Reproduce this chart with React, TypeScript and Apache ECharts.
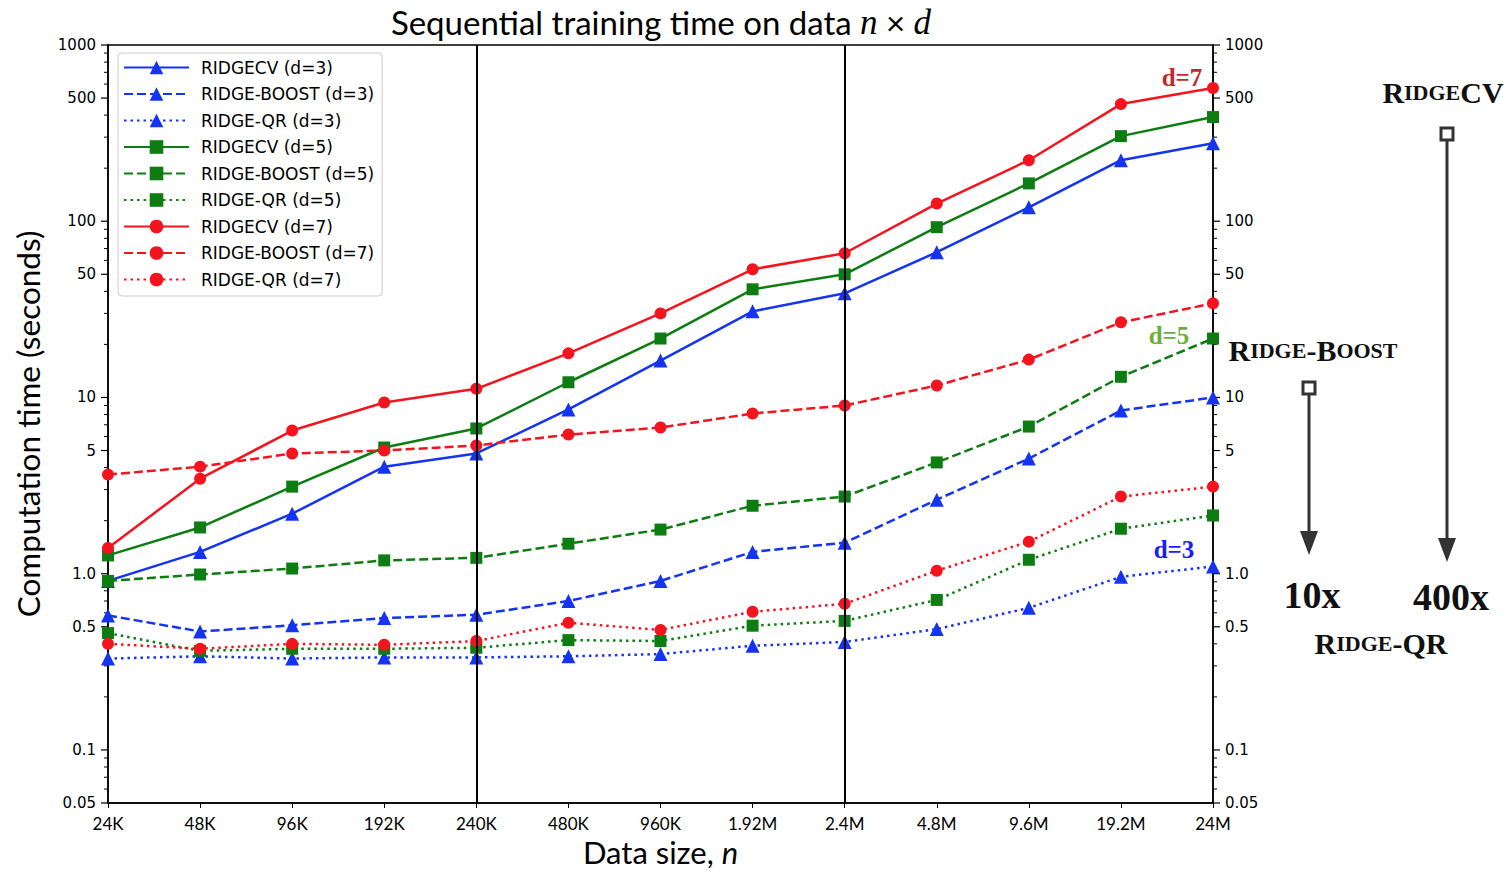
import React, { useEffect, useRef } from "react";
import * as echarts from "echarts";

const categories = ["24K", "48K", "96K", "192K", "240K", "480K", "960K", "1.92M", "2.4M", "4.8M", "9.6M", "19.2M", "24M"];

const ridgeCvD3 = [0.91, 1.33, 2.19, 4.05, 4.81, 8.55, 16.2, 30.8, 39.0, 66.7, 120, 222, 277];
const ridgeBoostD3 = [0.58, 0.47, 0.51, 0.56, 0.585, 0.7, 0.91, 1.33, 1.5, 2.63, 4.5, 8.44, 10.0];
const ridgeQrD3 = [0.33, 0.34, 0.33, 0.335, 0.335, 0.34, 0.35, 0.39, 0.41, 0.485, 0.64, 0.96, 1.1];
const ridgeCvD5 = [1.27, 1.83, 3.12, 5.2, 6.67, 12.2, 21.6, 41.1, 50.0, 92.5, 164, 304, 390];
const ridgeBoostD5 = [0.91, 0.99, 1.07, 1.19, 1.23, 1.48, 1.78, 2.43, 2.74, 4.28, 6.84, 13.1, 21.6];
const ridgeQrD5 = [0.46, 0.365, 0.375, 0.375, 0.38, 0.42, 0.415, 0.507, 0.54, 0.71, 1.2, 1.8, 2.14];
const ridgeCvD7 = [1.4, 3.46, 6.49, 9.37, 11.2, 17.8, 30.0, 53.4, 65.8, 126, 222, 462, 570];
const ridgeBoostD7 = [3.65, 4.05, 4.81, 5.0, 5.34, 6.16, 6.75, 8.11, 9.0, 11.7, 16.4, 26.7, 34.2];
const ridgeQrD7 = [0.4, 0.375, 0.4, 0.395, 0.415, 0.527, 0.48, 0.608, 0.675, 1.04, 1.52, 2.74, 3.12];

const yTickValues = [1000, 500, 100, 50, 10, 5, 1, 0.5, 0.1, 0.05];
const yTickLabels = ["1000", "500", "100", "50", "10", "5", "1.0", "0.5", "0.1", "0.05"];
const verticalMarks = ["240K", "2.4M"];

const BLUE = "#1434f2";
const GREEN = "#0d7d12";
const RED = "#f5141e";
const DASHED = [9, 4];
const DOTTED = [2.5, 4];

const SANS = "DejaVu Sans";
const CM = "Lato, 'Open Sans', sans-serif";
const SERIF = "'Liberation Serif', 'DejaVu Serif', serif";

function mk(name: string, data: number[], color: string, type: any, symbol: string, size: number) {
  return {
    name,
    type: "line",
    data,
    symbol,
    symbolSize: size,
    showAllSymbol: true,
    lineStyle: { color, width: 2.5, type },
    itemStyle: { color },
    z: 3,
  };
}

export default function App() {
  const ref = useRef<HTMLDivElement>(null);
  useEffect(() => {
    document.body.style.margin = "0";
    const chart = echarts.init(ref.current!, null, { renderer: "svg" });
    const series: any[] = [
      mk("RIDGECV (d=3)", ridgeCvD3, BLUE, "solid", "triangle", 14),
      mk("RIDGE-BOOST (d=3)", ridgeBoostD3, BLUE, DASHED, "triangle", 14),
      mk("RIDGE-QR (d=3)", ridgeQrD3, BLUE, DOTTED, "triangle", 14),
      mk("RIDGECV (d=5)", ridgeCvD5, GREEN, "solid", "rect", 12),
      mk("RIDGE-BOOST (d=5)", ridgeBoostD5, GREEN, DASHED, "rect", 12),
      mk("RIDGE-QR (d=5)", ridgeQrD5, GREEN, DOTTED, "rect", 12),
      mk("RIDGECV (d=7)", ridgeCvD7, RED, "solid", "circle", 12),
      mk("RIDGE-BOOST (d=7)", ridgeBoostD7, RED, DASHED, "circle", 12),
      mk("RIDGE-QR (d=7)", ridgeQrD7, RED, DOTTED, "circle", 12),
    ];
    series[0].markLine = {
      silent: true,
      symbol: ["none", "none"],
      label: { show: false },
      lineStyle: { color: "#000", width: 2, type: "solid" },
      data: verticalMarks.map((v) => ({ xAxis: v })),
    };
    const yAxisBase = {
      type: "log",
      logBase: 10,
      min: 0.05,
      max: 1000,
      axisLine: { show: true, lineStyle: { color: "#000", width: 1.5 } },
      axisTick: { show: false },
      axisLabel: { show: false },
      splitLine: { show: false },
      minorTick: { show: false },
    };
    chart.setOption({
      animation: false,
      backgroundColor: "#fff",
      grid: {
        left: 108, right: 299, top: 45, bottom: 69,
        outerBoundsMode: "none",
        containLabel: false,
        show: true, borderColor: "#000", borderWidth: 1.5, backgroundColor: "transparent",
      },
      legend: {
        orient: "vertical",
        left: 118,
        top: 53,
        padding: [6, 8, 8, 5],
        itemWidth: 65,
        itemHeight: 17,
        itemGap: 9.5,
        backgroundColor: "rgba(255,255,255,0.85)",
        borderColor: "#cccccc",
        borderWidth: 1,
        borderRadius: 4,
        textStyle: { fontFamily: SANS, fontSize: 17, color: "#000", padding: [0, 0, 0, 7] },
        data: series.map((s) => s.name),
      },
      xAxis: {
        type: "category",
        data: categories,
        boundaryGap: false,
        axisLine: { lineStyle: { color: "#000", width: 1.5 } },
        axisTick: { show: true, length: 5, alignWithLabel: true, lineStyle: { color: "#000" } },
        axisLabel: { fontFamily: CM, fontSize: 17, color: "#000", margin: 12, interval: 0 },
        splitLine: { show: false },
        name: "{a|Data size, }{i|n}",
        nameLocation: "middle",
        nameGap: 34,
        nameTextStyle: {
          fontFamily: CM,
          fontSize: 31,
          lineHeight: 30,
          color: "#000",
          rich: {
            a: { fontFamily: CM, fontSize: 31, lineHeight: 30, color: "#000" },
            i: { fontFamily: CM, fontStyle: "italic", fontSize: 31, lineHeight: 30, color: "#000" },
          },
        },
      },
      yAxis: [
        {
          ...yAxisBase,
          position: "left",
          name: "Computation time (seconds)",
          nameLocation: "middle",
          nameGap: 64,
          nameTextStyle: { fontFamily: CM, fontSize: 31.5, color: "#000" },
        },
        { ...yAxisBase, position: "right" },
      ],
      series,
    });

    const g: any[] = [];
    const yPix = (v: number) => chart.convertToPixel({ yAxisIndex: 0 }, v) as number;
    const xLeft = chart.convertToPixel({ xAxisIndex: 0 }, categories[0]) as number;
    const xRight = chart.convertToPixel({ xAxisIndex: 0 }, categories[categories.length - 1]) as number;
    for (let e = -2; e < 3; e++) {
      for (let m = 2; m <= 9; m++) {
        const v = m * Math.pow(10, e);
        if (v < 0.05 || v > 1000 || m === 5) continue;
        const y = yPix(v);
        g.push({ type: "line", shape: { x1: xLeft - 4, y1: y, x2: xLeft, y2: y }, style: { stroke: "#000", lineWidth: 1 } });
        g.push({ type: "line", shape: { x1: xRight, y1: y, x2: xRight + 4, y2: y }, style: { stroke: "#000", lineWidth: 1 } });
      }
    }
    yTickValues.forEach((v, i) => {
      const y = yPix(v);
      const len = 7;
      g.push({ type: "line", shape: { x1: xLeft - len, y1: y, x2: xLeft, y2: y }, style: { stroke: "#000", lineWidth: 1.2 } });
      g.push({ type: "line", shape: { x1: xRight, y1: y, x2: xRight + len, y2: y }, style: { stroke: "#000", lineWidth: 1.2 } });
      g.push({ type: "text", x: xLeft - 12, y, style: { text: yTickLabels[i], fontFamily: SANS, fontSize: 15, fill: "#000", align: "right", verticalAlign: "middle" } });
      g.push({ type: "text", x: xRight + 12, y, style: { text: yTickLabels[i], fontFamily: SANS, fontSize: 15, fill: "#000", align: "left", verticalAlign: "middle" } });
    });
    g.push({
      type: "text",
      x: 661,
      y: 22,
      style: {
        text: "{n|Sequential training time on data }{i|n}{n| × }{i|d}",
        align: "center",
        verticalAlign: "middle",
        rich: {
          n: { fontFamily: CM, fontSize: 33, fill: "#000" },
          i: { fontFamily: SERIF, fontStyle: "italic", fontSize: 35, fill: "#000" },
        },
      },
    });
    const dLab = (text: string, x: number, y: number, color: string) =>
      g.push({ type: "text", x, y, style: { text, fontFamily: SERIF, fontWeight: "bold", fontSize: 25, fill: color, align: "center", verticalAlign: "middle" } });
    dLab("d=7", 1182, 77, "#c4282c");
    dLab("d=5", 1169, 335, "#6aaf3c");
    dLab("d=3", 1174, 549, "#1a1aff");
    const sc = (text: string, x: number, y: number) =>
      g.push({
        type: "text",
        x,
        y,
        style: {
          text,
          align: "center",
          verticalAlign: "middle",
          rich: {
            b: { fontFamily: SERIF, fontWeight: "bold", fontSize: 30, fill: "#111" },
            s: { fontFamily: SERIF, fontWeight: "bold", fontSize: 22, fill: "#111" },
          },
        },
      });
    sc("{b|R}{s|IDGE}{b|CV}", 1443, 92);
    sc("{b|R}{s|IDGE}{b|-B}{s|OOST}", 1313, 350);
    sc("{b|R}{s|IDGE}{b|-QR}", 1381, 643);
    g.push({ type: "text", x: 1312, y: 595, style: { text: "10x", fontFamily: SERIF, fontWeight: "bold", fontSize: 38, fill: "#111", align: "center", verticalAlign: "middle" } });
    g.push({ type: "text", x: 1451, y: 597, style: { text: "400x", fontFamily: SERIF, fontWeight: "bold", fontSize: 38, fill: "#111", align: "center", verticalAlign: "middle" } });
    const arrow = (x: number, yTop: number, yTip: number) => {
      g.push({ type: "line", shape: { x1: x, y1: yTop + 6, x2: x, y2: yTip - 20 }, style: { stroke: "#333", lineWidth: 3 } });
      g.push({ type: "polygon", shape: { points: [[x - 9, yTip - 24], [x + 9, yTip - 24], [x, yTip]] }, style: { fill: "#333" } });
      g.push({ type: "rect", shape: { x: x - 6, y: yTop - 6, width: 12, height: 12 }, style: { fill: "#fff", stroke: "#333", lineWidth: 3 } });
    };
    arrow(1447, 134, 562);
    arrow(1309, 388, 555);
    chart.setOption({ graphic: g });
    return () => chart.dispose();
  }, []);
  return <div ref={ref} style={{ width: 1512, height: 872 }} />;
}
